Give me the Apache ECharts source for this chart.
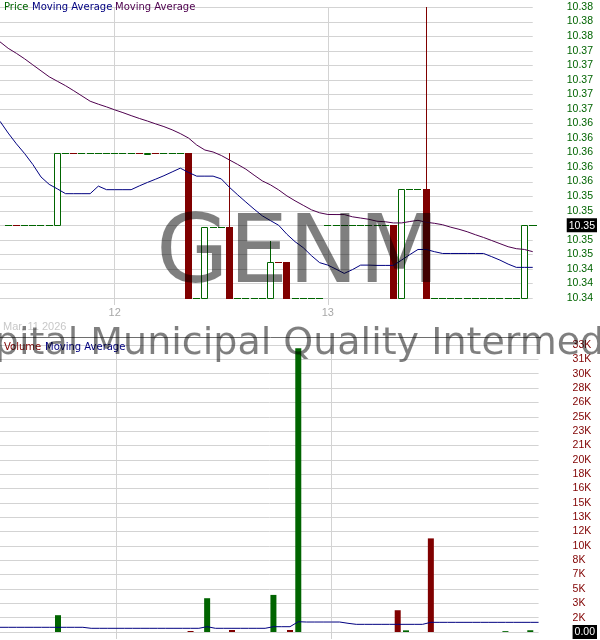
<!DOCTYPE html>
<html><head><meta charset="utf-8">
<script src="https://cdn.jsdelivr.net/npm/echarts@6/dist/echarts.min.js"></script>
<style>html,body{margin:0;padding:0;background:#fff}#c{width:600px;height:640px}</style>
</head><body><div id="c"></div>
<script>
// ---- data ----
const dayLabels = ['12', '13'];
const dayStartBar = [13, 39];
const dateLabel = 'Mar, 11 2026';
const ticker = 'GENM';
const fundName = 'Capital Municipal Quality Intermediate ETF';

const opens = [
10.35,10.35,10.35,10.35,10.35,10.35,10.35,10.36,10.36,10.36,
10.36,10.36,10.36,10.36,10.36,10.36,10.36,10.3598,10.36,10.36,
10.36,10.36,10.36,10.34,10.34,10.3497,10.3497,10.3497,10.34,10.34,
10.34,10.34,10.34,10.3449,10.3449,10.34,10.34,10.34,10.34,10.35,
10.35,10.35,10.35,10.35,10.35,10.35,10.35,10.35,10.34,10.355,
10.355,10.355,10.34,10.34,10.34,10.34,10.34,10.34,10.34,10.34,
10.34,10.34,10.34,10.34];
const closes = [
10.35,10.35,10.35,10.35,10.35,10.35,10.36,10.36,10.36,10.36,
10.36,10.36,10.36,10.36,10.36,10.36,10.36,10.36,10.36,10.36,
10.36,10.36,10.34,10.34,10.3497,10.3497,10.3497,10.34,10.34,10.34,
10.34,10.34,10.3449,10.3449,10.34,10.34,10.34,10.34,10.34,10.35,
10.35,10.35,10.35,10.35,10.35,10.35,10.35,10.34,10.355,10.355,
10.355,10.34,10.34,10.34,10.34,10.34,10.34,10.34,10.34,10.34,
10.34,10.34,10.34,10.35];
const lows = [
10.35,10.35,10.35,10.35,10.35,10.35,10.35,10.36,10.36,10.36,
10.36,10.36,10.36,10.36,10.36,10.36,10.36,10.3598,10.36,10.36,
10.36,10.36,10.34,10.34,10.34,10.3497,10.3497,10.34,10.34,10.34,
10.34,10.34,10.34,10.3449,10.34,10.34,10.34,10.34,10.34,10.35,
10.35,10.35,10.35,10.35,10.35,10.35,10.35,10.34,10.34,10.355,
10.355,10.34,10.34,10.34,10.34,10.34,10.34,10.34,10.34,10.34,
10.34,10.34,10.34,10.34];
const highs = [
10.35,10.35,10.35,10.35,10.35,10.35,10.36,10.36,10.36,10.36,
10.36,10.36,10.36,10.36,10.36,10.36,10.36,10.36,10.36,10.36,
10.36,10.36,10.36,10.34,10.3497,10.3497,10.3497,10.36,10.34,10.34,
10.34,10.34,10.3478,10.3449,10.3449,10.34,10.34,10.34,10.34,10.35,
10.35,10.35,10.35,10.35,10.35,10.35,10.35,10.35,10.355,10.355,
10.355,10.38,10.34,10.34,10.34,10.34,10.34,10.34,10.34,10.34,
10.34,10.34,10.34,10.35];
// flat bars that traded down
const downDoji = [1, 8, 16, 18, 33];

const volumes = [
0,0,0,0,0,0,1930,0,0,0,
0,0,0,0,0,0,0,0,0,0,
0,0,115,0,3880,0,0,230,0,0,
0,0,4260,0,230,32600,0,0,0,0,
0,0,0,0,0,0,0,2500,190,0,
0,10750,0,0,0,0,0,0,0,0,
100,0,0,200];

// moving averages: one value before the first bar through one after the last
const maShort = [
10.36429,10.36267,10.36119,10.35986,10.35836,10.35664,10.35562,10.35500,10.35434,10.35434,
10.35434,10.35434,10.35538,10.35489,10.35489,10.35489,10.35489,10.35541,10.35589,10.35634,
10.35681,10.35733,10.35785,10.35726,10.35675,10.35675,10.35675,10.35637,10.35521,10.35418,
10.35319,10.35222,10.35130,10.35064,10.35000,10.34877,10.34774,10.34692,10.34582,10.34486,
10.34452,10.34397,10.34338,10.34390,10.34452,10.34452,10.34448,10.34448,10.34448,10.34521,
10.34596,10.34667,10.34667,10.34637,10.34612,10.34612,10.34612,10.34612,10.34612,10.34612,
10.34568,10.34521,10.34466,10.34421,10.34421,10.34421];
const maLong = [
10.37521,10.37432,10.37363,10.37288,10.37205,10.37123,10.37041,10.36979,10.36918,10.36849,
10.36777,10.36705,10.36664,10.36627,10.36586,10.36548,10.36507,10.36468,10.36432,10.36393,
10.36356,10.36312,10.36260,10.36199,10.36103,10.36034,10.36007,10.35959,10.35897,10.35836,
10.35771,10.35689,10.35610,10.35555,10.35486,10.35404,10.35336,10.35274,10.35212,10.35171,
10.35148,10.35147,10.35147,10.35116,10.35099,10.35082,10.35055,10.35048,10.35032,10.35032,
10.35051,10.35068,10.35041,10.35027,10.35007,10.34973,10.34945,10.34911,10.34870,10.34832,
10.34790,10.34747,10.34705,10.34678,10.34667,10.34637];
const volMA = [
540,540,540,540,540,540,540,540,540,540,540,
425,425,425,425,425,425,425,425,425,425,425,425,425,425,
610,
425,425,425,425,425,425,425,
610,610,610,
1180,
1145,1145,1145,1145,1145,
1000,
880,880,880,880,880,880,880,880,880,
1110,1110,1110,1110,1110,1110,1110,1110,1110,1110,1110,1110,1110,1110];

const priceTickLabels = ['10.34','10.34','10.34','10.35','10.35','10.35','10.35','10.35','10.36','10.36',
  '10.36','10.36','10.36','10.37','10.37','10.37','10.37','10.37','10.38','10.38','10.38'];
const volTickLabels = ['0.00','2K','3K','5K','7K','8K','10K','12K','13K','15K','16K','18K','20K',
  '21K','23K','25K','26K','28K','30K','31K','33K'];
const priceMin = 10.34, priceMax = 10.38, priceStep = 0.002;
const volMax = 32960, volStep = 1648;
const lastPriceTick = 5, lastVolTick = 0;

// ---- build ----
const GREEN = '#006400', RED = '#800000', NAVY = '#000080', PURPLE = '#4e004e', GRID = '#d3d3d3';
const N = opens.length;
const cats = [];
for (let k = 0; k < N + 2; k++) cats.push('c' + k);
const dayLabelAt = {};
dayStartBar.forEach((b, j) => { dayLabelAt[b + 1] = dayLabels[j]; });
const isDay = (idx) => dayLabelAt[idx] !== undefined;

function barColor(i) {
  if (closes[i] > opens[i]) return GREEN;
  if (closes[i] < opens[i]) return RED;
  return downDoji.indexOf(i) >= 0 ? RED : GREEN;
}
const candleData = [];
const volData = ['-'];
for (let i = 0; i < N; i++) {
  candleData.push([i + 1, opens[i], closes[i], lows[i], highs[i]]);
  volData.push({ value: volumes[i], itemStyle: { color: barColor(i) } });
}
volData.push('-');
// horizontal price grid lines at the axis ticks
const priceGridData = priceTickLabels.map((t, n) => [0, priceMin + n * priceStep]);

const pix = (v) => Math.round(v);

function renderGridLine(params, api) {
  const cs = params.coordSys;
  const y = pix(api.coord([0, api.value(1)])[1]);
  return { type: 'rect', shape: { x: cs.x, y: y, width: cs.width, height: 1 }, style: { fill: GRID } };
}

function renderCandle(params, api) {
  const i = params.dataIndex;
  const k = i + 1;
  const o = opens[i], c = closes[i], l = lows[i], h = highs[i];
  const col = barColor(i);
  const pO = api.coord([k, o]);
  const xc = Math.floor(pO[0]);
  const yO = pix(pO[1]);
  const yC = pix(api.coord([k, c])[1]);
  const yL = pix(api.coord([k, l])[1]);
  const yH = pix(api.coord([k, h])[1]);
  const top = Math.min(yO, yC), bot = Math.max(yO, yC);
  const ch = [];
  if (yH < top) ch.push({ type: 'rect', shape: { x: xc, y: yH, width: 1, height: top - yH }, style: { fill: col } });
  if (yL > bot) ch.push({ type: 'rect', shape: { x: xc, y: bot, width: 1, height: yL - bot }, style: { fill: col } });
  if (c > o) {
    ch.push({ type: 'rect', shape: { x: xc - 2.5, y: top + 0.5, width: 6, height: Math.max(bot - top, 1) },
      style: { fill: '#fff', stroke: col, lineWidth: 1 } });
  } else if (c < o) {
    ch.push({ type: 'rect', shape: { x: xc - 3, y: top, width: 7, height: bot - top + 1 }, style: { fill: col } });
  } else {
    ch.push({ type: 'rect', shape: { x: xc - 3, y: top, width: 7, height: 1 }, style: { fill: col } });
  }
  if (i === N - 1) {
    // last-price marker continuing to the right of the final bar
    ch.push({ type: 'rect', shape: { x: xc + 5, y: yC, width: 8, height: 1 }, style: { fill: col } });
  }
  return { type: 'group', children: ch };
}

const FONT = 'Liberation Sans, Arial, sans-serif';
function xAxisCfg(grid, showLabels) {
  return {
    type: 'category', gridIndex: grid, data: cats, boundaryGap: false,
    axisLine: { show: false },
    axisTick: { show: true, length: 7, interval: (i) => isDay(i), lineStyle: { color: '#d0d0d0' } },
    axisLabel: { show: showLabels, interval: (i) => isDay(i), formatter: (v, i) => dayLabelAt[i] || '',
      color: '#a8a8a8', fontSize: 11, fontFamily: FONT, margin: 9 },
    splitLine: { show: true, interval: (i) => isDay(i), lineStyle: { color: GRID, width: 1 } }
  };
}

const chart = echarts.init(document.getElementById('c'), null, { renderer: 'canvas' });
chart.setOption({
  animation: false,
  backgroundColor: '#fff',
  grid: [
    { left: 0, top: 7, width: 540, height: 291 },
    { left: 0, top: 345, width: 540, height: 287 }
  ],
  xAxis: [xAxisCfg(0, true), xAxisCfg(1, false)],
  yAxis: [
    { type: 'value', gridIndex: 0, position: 'right', min: priceMin, max: priceMax, interval: priceStep,
      axisLine: { show: false }, axisTick: { show: false },
      splitLine: { show: false },
      axisLabel: { margin: 34, color: GREEN, fontSize: 10.5, fontFamily: FONT,
        formatter: (v, idx) => idx === lastPriceTick ? '{hl|' + priceTickLabels[idx] + '}' : (priceTickLabels[idx] || ''),
        rich: { hl: { color: '#fff', backgroundColor: '#000', padding: [2, 2, 1, 2], fontSize: 10.5, fontFamily: FONT } } } },
    { type: 'value', gridIndex: 1, position: 'right', min: 0, max: volMax, interval: volStep,
      axisLine: { show: false }, axisTick: { show: false },
      splitLine: { lineStyle: { color: GRID, width: 1 } },
      axisLabel: { margin: 34, color: RED, fontSize: 10.5, fontFamily: FONT,
        formatter: (v, idx) => idx === lastVolTick ? '{hl|' + volTickLabels[idx] + '}' : (volTickLabels[idx] || ''),
        rich: { hl: { color: '#fff', backgroundColor: '#000', padding: [2, 2, 1, 2], fontSize: 10.5, fontFamily: FONT } } } }
  ],
  series: [
    { type: 'custom', xAxisIndex: 0, yAxisIndex: 0, data: priceGridData, renderItem: renderGridLine,
      encode: { x: 0, y: 1 }, clip: false, z: 1, silent: true },
    { type: 'custom', xAxisIndex: 0, yAxisIndex: 0, data: candleData, renderItem: renderCandle,
      encode: { x: 0, y: [1, 2, 3, 4] }, clip: false, z: 2 },
    { type: 'line', xAxisIndex: 0, yAxisIndex: 0, data: maLong, symbol: 'none',
      lineStyle: { color: PURPLE, width: 1 }, z: 3 },
    { type: 'line', xAxisIndex: 0, yAxisIndex: 0, data: maShort, symbol: 'none',
      lineStyle: { color: NAVY, width: 1 }, z: 3 },
    { type: 'bar', xAxisIndex: 1, yAxisIndex: 1, data: volData, barWidth: 6 },
    { type: 'line', xAxisIndex: 1, yAxisIndex: 1, data: volMA, symbol: 'none',
      lineStyle: { color: NAVY, width: 1 }, z: 3 }
  ],
  graphic: [
    { type: 'text', x: 4, y: 7, z: 50, style: { text: 'Price', fill: GREEN, font: '10px "DejaVu Sans"', textVerticalAlign: 'middle', verticalAlign: 'middle' } },
    { type: 'text', x: 32, y: 7, z: 50, style: { text: 'Moving Average', fill: NAVY, font: '10px "DejaVu Sans"', textVerticalAlign: 'middle', verticalAlign: 'middle' } },
    { type: 'text', x: 115, y: 7, z: 50, style: { text: 'Moving Average', fill: PURPLE, font: '10px "DejaVu Sans"', textVerticalAlign: 'middle', verticalAlign: 'middle' } },
    { type: 'text', x: 3, y: 327, z: 50, style: { text: dateLabel, fill: '#c8c8c8', font: '11px "Liberation Sans"', textVerticalAlign: 'middle', verticalAlign: 'middle' } },
    { type: 'line', z: 40, shape: { x1: 0, y1: 337.5, x2: 541, y2: 337.5 }, style: { stroke: '#6e6e6e', lineWidth: 1 } },
    { type: 'text', x: 4, y: 347, z: 50, style: { text: 'Volume', fill: RED, font: '10px "DejaVu Sans"', textVerticalAlign: 'middle', verticalAlign: 'middle' } },
    { type: 'text', x: 45, y: 347, z: 50, style: { text: 'Moving Average', fill: NAVY, font: '10px "DejaVu Sans"', textVerticalAlign: 'middle', verticalAlign: 'middle' } },
    { type: 'text', x: 156, y: 258, z: 60, silent: true, style: { text: ticker, fill: 'rgba(0,0,0,0.5)', font: '94px "DejaVu Sans"', textVerticalAlign: 'middle', verticalAlign: 'middle' } },
    { type: 'text', x: -55, y: 344, z: 60, silent: true, style: { text: fundName, fill: 'rgba(0,0,0,0.5)', font: '38px "DejaVu Sans"', textVerticalAlign: 'middle', verticalAlign: 'middle' } }
  ]
});
</script>
</body></html>
